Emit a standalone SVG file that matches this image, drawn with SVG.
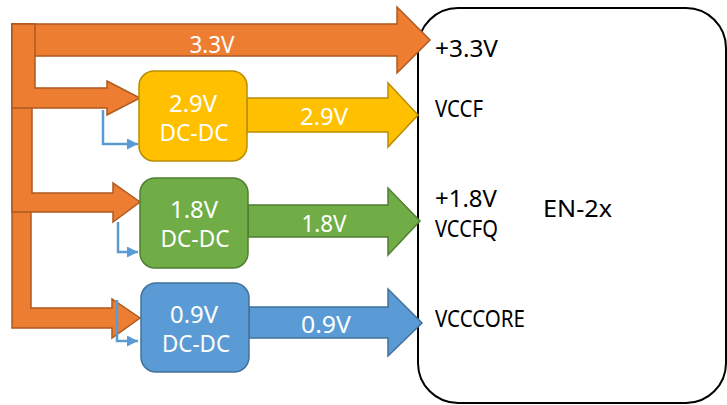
<svg xmlns="http://www.w3.org/2000/svg" width="727" height="405" viewBox="0 0 727 405">
<style>
text{font-family:"Noto Sans","Open Sans","DejaVu Sans",sans-serif;font-size:23px}
.w{fill:#fff}
.k{fill:#000;font-size:24px}
.or{fill:#ED7D31;stroke:#AE5A21;stroke-width:1.5;stroke-linejoin:miter}
.ye{fill:#FFC000;stroke:#BC8C00;stroke-width:1.5}
.gr{fill:#70AD47;stroke:#507E32;stroke-width:1.5}
.bl{fill:#5B9BD5;stroke:#41719C;stroke-width:1.5}
.ctl{fill:none;stroke:#5B9BD5;stroke-width:2.5}
</style>
<defs>
<marker id="ah" viewBox="0 0 10 10" refX="10" refY="5" markerWidth="5" markerHeight="4.4" orient="auto" markerUnits="strokeWidth">
<path d="M0,0 L10,5 L0,10 z" fill="#5B9BD5"/>
</marker>
</defs>
<g id="en2x">
<rect x="418" y="8" width="308" height="395" rx="40" ry="40" fill="#fff" stroke="#000" stroke-width="2"/>
<text class="k" x="435" y="57" textLength="63" lengthAdjust="spacingAndGlyphs">+3.3V</text>
<text class="k" x="435" y="117" textLength="48" lengthAdjust="spacingAndGlyphs">VCCF</text>
<text class="k" x="435" y="207" textLength="62" lengthAdjust="spacingAndGlyphs">+1.8V</text>
<text class="k" x="435" y="237" textLength="63" lengthAdjust="spacingAndGlyphs">VCCFQ</text>
<text class="k" x="543" y="217" textLength="69" lengthAdjust="spacingAndGlyphs">EN-2x</text>
<text class="k" x="435" y="327" textLength="90" lengthAdjust="spacingAndGlyphs">VCCCORE</text>
</g>
<g id="connectors">
<polygon class="or" points="12,24 397,24 397,7 430,40 397,73 397,56 12,56"/>
<polygon class="or" points="12,24 31,24 31,308 112,308 112,299 140,318 112,338 112,328 12,328"/>
<polygon class="or" points="12,24 32,24 32,193 113,193 113,183 140,202 113,222 113,212 12,212"/>
<polygon class="or" points="12,24 35,24 35,88 107,88 107,81 140,98 107,115 107,108 12,108"/>
<text class="w" x="212" y="53" text-anchor="middle" textLength="45" lengthAdjust="spacingAndGlyphs">3.3V</text>
<polyline class="ctl" points="103,110 103,144 138,144" marker-end="url(#ah)"/>
<polyline class="ctl" points="118,222 118,252 138,252" marker-end="url(#ah)"/>
<polyline class="ctl" points="117,300 117,341 138,341" marker-end="url(#ah)"/>
<polygon class="ye" points="247,98 388,98 388,83 418,115 388,147 388,132 247,132"/>
<text class="w" x="324" y="125" text-anchor="middle" textLength="48" lengthAdjust="spacingAndGlyphs">2.9V</text>
<polygon class="gr" points="248,205 388,205 388,188 420,221 388,255 388,237 248,237"/>
<text class="w" x="324" y="232" text-anchor="middle" textLength="45" lengthAdjust="spacingAndGlyphs">1.8V</text>
<polygon class="bl" points="249,307 388,307 388,289 422,323 388,356 388,338 249,338"/>
<text class="w" x="326" y="333" text-anchor="middle" textLength="50" lengthAdjust="spacingAndGlyphs">0.9V</text>
</g>
<g id="dc29">
<rect class="ye" x="139" y="71" width="108" height="90" rx="15"/>
<text class="w" x="193" y="112" text-anchor="middle" textLength="48" lengthAdjust="spacingAndGlyphs">2.9V</text>
<text class="w" x="194" y="141" text-anchor="middle" textLength="69" lengthAdjust="spacingAndGlyphs">DC-DC</text>
</g>
<g id="dc18">
<rect class="gr" x="140" y="178" width="108" height="90" rx="15"/>
<text class="w" x="194" y="218" text-anchor="middle" textLength="48" lengthAdjust="spacingAndGlyphs">1.8V</text>
<text class="w" x="195" y="247" text-anchor="middle" textLength="69" lengthAdjust="spacingAndGlyphs">DC-DC</text>
</g>
<g id="dc09">
<rect class="bl" x="141" y="283" width="108" height="89" rx="15"/>
<text class="w" x="194" y="323" text-anchor="middle" textLength="48" lengthAdjust="spacingAndGlyphs">0.9V</text>
<text class="w" x="196" y="352" text-anchor="middle" textLength="68" lengthAdjust="spacingAndGlyphs">DC-DC</text>
</g>
</svg>
